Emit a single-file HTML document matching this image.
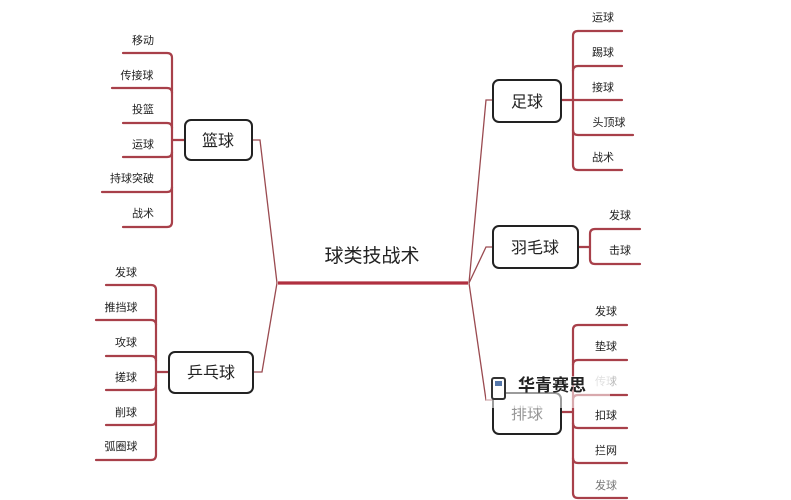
<!DOCTYPE html>
<html><head><meta charset="utf-8"><style>
html,body{margin:0;padding:0;background:#fff;}
svg{display:block;}
text{font-family:"Liberation Sans","Noto Sans CJK SC",sans-serif;fill:#222;}
.s{font-size:11px;}
.b{font-size:16px;}
</style></head><body>
<svg width="791" height="500" viewBox="0 0 791 500" xmlns="http://www.w3.org/2000/svg">
<g fill="none" stroke="#a8404a" stroke-width="2.2" stroke-linecap="round">
<!-- basketball bracket -->
<path d="M123 53 H167 Q172 53 172 58 V222 Q172 227 167 227 H123"/>
<path d="M112 88 H167 Q172 88 172 93"/>
<path d="M123 123 H167 Q172 123 172 128"/>
<path d="M123 157 H167 Q172 157 172 152"/>
<path d="M102 192 H167 Q172 192 172 187"/>
<path d="M172 140 H185"/>
<!-- ping pong -->
<path d="M106 285 H151 Q156 285 156 290 V455 Q156 460 151 460 H96"/>
<path d="M96 320 H151 Q156 320 156 325"/>
<path d="M106 356 H151 Q156 356 156 361"/>
<path d="M106 390 H151 Q156 390 156 385"/>
<path d="M106 425 H151 Q156 425 156 420"/>
<path d="M156 372 H169"/>
<!-- football -->
<path d="M622 31 H578 Q573 31 573 36 V165 Q573 170 578 170 H622"/>
<path d="M622 66 H578 Q573 66 573 71"/>
<path d="M622 100 H573"/>
<path d="M633 135 H578 Q573 135 573 130"/>
<path d="M561 100 H573"/>
<!-- badminton -->
<path d="M640 229 H595 Q590 229 590 234 V259 Q590 264 595 264 H640"/>
<path d="M578 247 H590"/>
<!-- volleyball -->
<path d="M627 325 H578 Q573 325 573 330 V493 Q573 498 578 498 H627"/>
<path d="M627 360 H578 Q573 360 573 365"/>
<path d="M627 395 H578 Q573 395 573 400"/>
<path d="M627 428 H578 Q573 428 573 423"/>
<path d="M627 463 H578 Q573 463 573 458"/>
<path d="M561 412 H573"/>
</g>
<g fill="none" stroke="#9a4a50" stroke-width="1.3">
<path d="M252 140 H260 L277 283"/>
<path d="M252 372 H262 L277 283"/>
<path d="M493 100 H486 L469 283"/>
<path d="M493 247 H486 L469 283"/>
<path d="M493 400 H486 L469 283"/>
</g>
<path d="M278 283 H468" stroke="#b03040" stroke-width="3.2"/>
<g fill="#fff" stroke="#222" stroke-width="2">
<rect x="185" y="120" width="67" height="40" rx="6"/>
<rect x="169" y="352" width="84" height="41" rx="6"/>
<rect x="493" y="80" width="68" height="42" rx="6"/>
<rect x="493" y="226" width="85" height="42" rx="6"/>
<rect x="493" y="393" width="68" height="41" rx="6"/>
</g>
<text x="372" y="262" text-anchor="middle" style="font-size:19px">球类技战术</text>
<g class="b" text-anchor="middle">
<text x="218" y="146">篮球</text>
<text x="211" y="378">乒乓球</text>
<text x="527" y="107">足球</text>
<text x="535" y="253">羽毛球</text>
<text x="527" y="419" style="fill:#999">排球</text>
</g>
<g class="s" text-anchor="middle">
<text x="143" y="44">移动</text>
<text x="137" y="79">传接球</text>
<text x="143" y="113">投篮</text>
<text x="143" y="148">运球</text>
<text x="132" y="182">持球突破</text>
<text x="143" y="217">战术</text>
<text x="126" y="276">发球</text>
<text x="121" y="311">推挡球</text>
<text x="126" y="346">攻球</text>
<text x="126" y="381">搓球</text>
<text x="126" y="416">削球</text>
<text x="121" y="450">弧圈球</text>
<text x="603" y="21">运球</text>
<text x="603" y="56">踢球</text>
<text x="603" y="91">接球</text>
<text x="609" y="126">头顶球</text>
<text x="603" y="161">战术</text>
<text x="620" y="219">发球</text>
<text x="620" y="254">击球</text>
<text x="606" y="315">发球</text>
<text x="606" y="350">垫球</text>
<text x="606" y="385" style="fill:#bbb">传球</text>
<text x="606" y="419">扣球</text>
<text x="606" y="454">拦网</text>
<text x="606" y="489" style="fill:#777">发球</text>
</g>
<rect x="486" y="376" width="124" height="32" fill="#fff" opacity="0.55"/>
<g>
<rect x="492" y="378" width="13" height="21" rx="2" fill="#fff" stroke="#333" stroke-width="2"/>
<rect x="495" y="381" width="7" height="5" fill="#5577aa"/>
<text x="518" y="391" style="font-size:17px;font-weight:bold;fill:#222">华青赛思</text>
</g>
</svg>
</body></html>
